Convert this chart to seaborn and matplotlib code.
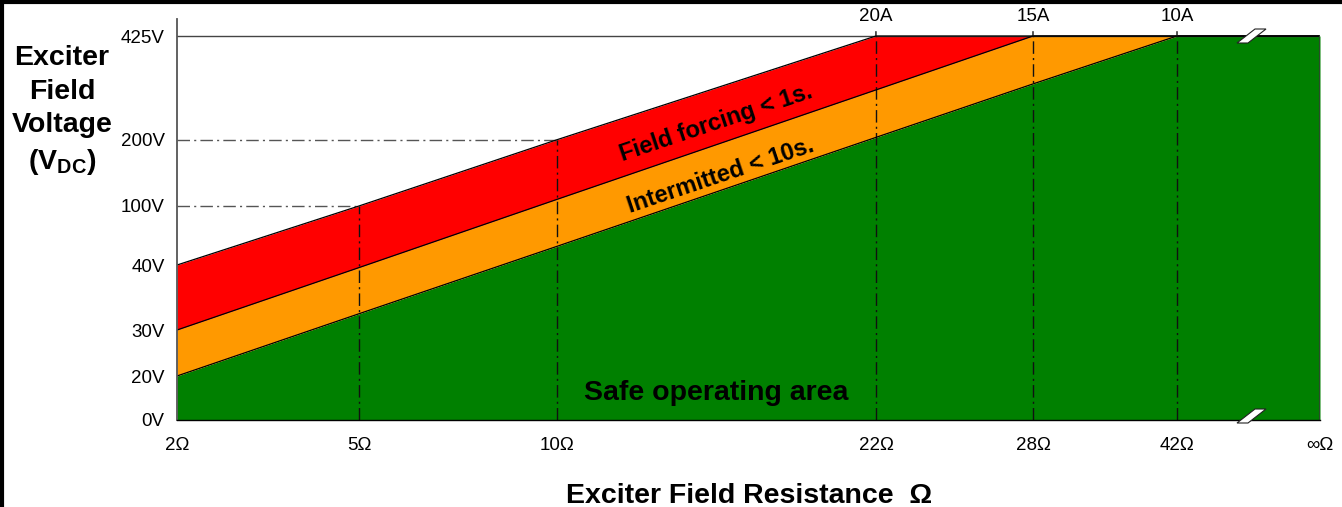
import numpy as np
import pandas as pd
import matplotlib
matplotlib.use('Agg')
import matplotlib.pyplot as plt
import seaborn as sns
from matplotlib.lines import Line2D
from matplotlib.patches import Polygon

# Data
res_ticks = [2, 5, 10, 22, 28, 42, 100]          # 100 stands for infinity
res_labels = ['2Ω', '5Ω', '10Ω', '22Ω', '28Ω', '42Ω', '∞Ω']
volt_ticks = [0, 20, 30, 40, 100, 200, 425]
volt_labels = ['0V', '20V', '30V', '40V', '100V', '200V', '425V']
amp_res = [22, 28, 42]
amp_labels = ['20A', '15A', '10A']

red_top = [40, 100, 200, 425, 425, 425, 425]      # field forcing < 1s
orange_top = [30, 39.6, 110, 308, 425, 425, 425]  # intermitted < 10s
green_top = [20, 32.5, 59, 205, 321, 425, 425]    # safe operating area

# Layout of the non-linear axes (fraction of axis length)
x_pos = [0, 0.1592, 0.3325, 0.6115, 0.7489, 0.8749, 1.0]
y_vals = volt_ticks + [470]
y_pos = [0, 0.1097, 0.2244, 0.3865, 0.5337, 0.699, 0.9576, 1.0]

sns.set_style('white')
plt.rcParams['font.family'] = ['Liberation Sans', 'DejaVu Sans']
plt.rcParams['mathtext.default'] = 'regular'
plt.rcParams['text.color'] = 'black'

df = pd.DataFrame({'R': res_ticks, 'red': red_top, 'orange': orange_top, 'green': green_top})

fig = plt.figure(figsize=(13.42, 5.07), dpi=100)
ax = fig.add_axes([177 / 1342, 1 - 420 / 507, 1143 / 1342, 401 / 507])

ax.set_xscale('function', functions=(lambda r: np.interp(r, res_ticks, x_pos),
                                     lambda p: np.interp(p, x_pos, res_ticks)))
ax.set_yscale('function', functions=(lambda v: np.interp(v, y_vals, y_pos),
                                     lambda p: np.interp(p, y_pos, y_vals)))

# coloured bands
ax.fill_between(df['R'], 0, df['green'], color='#008000', lw=0, zorder=1)
ax.fill_between(df['R'], df['green'], df['orange'], color='#FF9900', lw=0, zorder=1)
ax.fill_between(df['R'], df['orange'], df['red'], color='#FF0000', lw=0, zorder=1)

for col in ['red', 'orange', 'green']:
    sns.lineplot(data=df, x='R', y=col, color='black', lw=0.9, ax=ax, zorder=3)
ax.plot([100, 100], [0, 425], color='#2a4a2a', lw=1.5, zorder=3)

# guide lines
dd = (0, (9, 3, 1.5, 3))
ax.plot([2, 100], [425, 425], color='#444444', lw=1, zorder=2)
ax.plot([2, 10], [200, 200], color='#555555', lw=1, ls=dd, zorder=2)
ax.plot([2, 5], [100, 100], color='#555555', lw=1, ls=dd, zorder=2)
ax.plot([5, 5], [0, 100], color='#111111', lw=1, ls=dd, zorder=2)
ax.plot([10, 10], [0, 200], color='#111111', lw=1, ls=dd, zorder=2)
for r in amp_res:
    ax.plot([r, r], [0, 425], color='#111111', lw=1, ls=dd, zorder=2)

for r, lab in zip(amp_res, amp_labels):
    ax.annotate(lab, xy=(r, 425), xytext=(0, 8), textcoords='offset points',
                ha='center', va='bottom', fontsize=13.5, color='black',
                arrowprops=dict(arrowstyle='-', color='#111111', lw=1, shrinkA=2.5, shrinkB=0))

ax.set_xlim(2, 100)
ax.set_ylim(0, 470)
ax.set_xticks(res_ticks)
ax.set_xticklabels(res_labels)
ax.set_yticks(volt_ticks)
ax.set_yticklabels(volt_labels)
ax.tick_params(axis='x', length=4.5, width=1, color='#333333', pad=8, labelsize=13.5, labelcolor='black')
ax.tick_params(axis='y', length=8, width=1, color='#555555', pad=1, labelsize=13.5, labelcolor='black')
ax.minorticks_off()
ax.set_xlabel('')
ax.set_ylabel('')

for s in ['top', 'right']:
    ax.spines[s].set_visible(False)
ax.spines['left'].set_color('#555555')
ax.spines['left'].set_linewidth(1.3)
ax.spines['bottom'].set_color('black')
ax.spines['bottom'].set_linewidth(1)
ax.spines['left'].set_zorder(4)
ax.spines['bottom'].set_zorder(4)

# band texts
ax.text(0.472, 0.74, 'Field forcing < 1s.', transform=ax.transAxes, rotation=18.5,
        ha='center', va='center', fontsize=17, fontweight='bold', color='black', zorder=5)
ax.text(0.476, 0.61, 'Intermitted < 10s.', transform=ax.transAxes, rotation=18.5,
        ha='center', va='center', fontsize=17, fontweight='bold', color='black', zorder=5)
ax.text(0.472, 0.068, 'Safe operating area', transform=ax.transAxes,
        ha='center', va='center', fontsize=20.5, fontweight='bold', color='black', zorder=5)

# axis break marks
for yc in [36, 416]:
    pts = [(1237, yc + 7), (1248, yc + 7), (1266, yc - 7), (1255, yc - 7)]
    pts = [(px / 1342, 1 - py / 507) for px, py in pts]
    fig.patches.append(Polygon(pts, closed=True, facecolor='white', edgecolor='#222222',
                               lw=0.8, transform=fig.transFigure, zorder=10))

fig.text(62 / 1342, 1 - 111 / 507, 'Exciter\nField\nVoltage\n(V$_{DC}$)', ha='center', va='center',
         fontsize=20.5, fontweight='bold', linespacing=1.38, multialignment='center', color='black')
fig.text(749 / 1342, 1 - 496 / 507, 'Exciter Field Resistance  Ω', ha='center', va='center',
         fontsize=20.5, fontweight='bold', color='black')

# frame on top and left edges
fig.add_artist(Line2D([0, 1], [0.997, 0.997], transform=fig.transFigure, color='black', lw=3))
fig.add_artist(Line2D([0.0015, 0.0015], [0, 1], transform=fig.transFigure, color='black', lw=3))

fig.savefig('out.png', dpi=100)
